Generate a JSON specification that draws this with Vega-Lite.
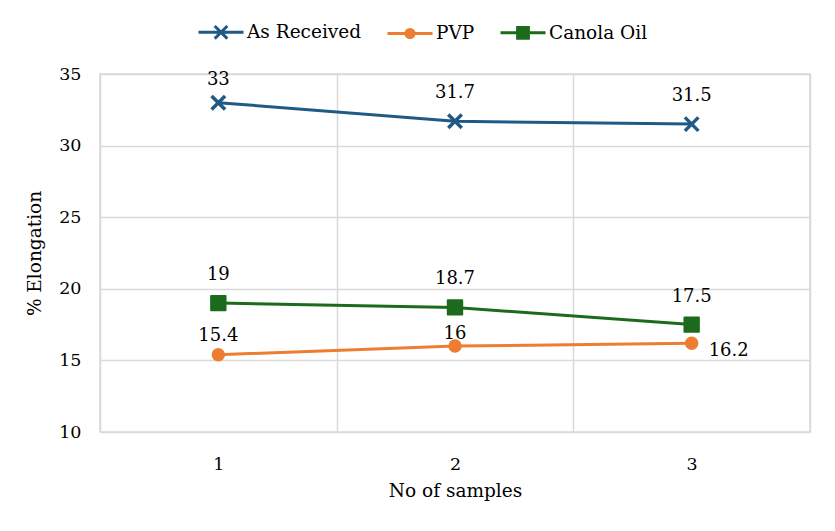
{
  "$schema": "https://vega.github.io/schema/vega-lite/v6.json",
  "width": 710,
  "height": 358,
  "autosize": {"type": "none"},
  "padding": {"left": 100, "top": 74, "right": 25, "bottom": 99},
  "background": "white",
  "config": {
    "view": {"stroke": "#d9d9d9", "strokeWidth": 1.5},
    "font": "DejaVu Serif"
  },
  "data": {
    "values": [
      {"sample": "1", "series": "As Received", "value": 33},
      {"sample": "2", "series": "As Received", "value": 31.7},
      {"sample": "3", "series": "As Received", "value": 31.5},
      {"sample": "1", "series": "PVP", "value": 15.4},
      {"sample": "2", "series": "PVP", "value": 16},
      {"sample": "3", "series": "PVP", "value": 16.2},
      {"sample": "1", "series": "Canola Oil", "value": 19},
      {"sample": "2", "series": "Canola Oil", "value": 18.7},
      {"sample": "3", "series": "Canola Oil", "value": 17.5}
    ]
  },
  "encoding": {
    "x": {
      "field": "sample",
      "type": "ordinal",
      "scale": {"type": "band", "paddingInner": 0, "paddingOuter": 0},
      "axis": {
        "title": "No of samples",
        "titleFont": "DejaVu Serif",
        "titleFontSize": 18.5,
        "titleFontWeight": "normal",
        "titleColor": "black",
        "titlePadding": 9,
        "labelFont": "DejaVu Serif",
        "labelFontSize": 17.5,
        "labelColor": "black",
        "labelAngle": 0,
        "labelPadding": 23,
        "domain": false,
        "ticks": false,
        "tickSize": 0,
        "tickBand": "extent",
        "grid": true,
        "gridColor": "#d9d9d9",
        "gridWidth": 1.5
      }
    },
    "y": {
      "field": "value",
      "type": "quantitative",
      "scale": {"domain": [10, 35], "nice": false, "zero": false},
      "axis": {
        "title": "% Elongation",
        "titleFont": "DejaVu Serif",
        "titleFontSize": 18.5,
        "titleFontWeight": "normal",
        "titleColor": "black",
        "titlePadding": 14,
        "values": [10, 15, 20, 25, 30, 35],
        "labelFont": "DejaVu Serif",
        "labelFontSize": 17.5,
        "labelColor": "black",
        "labelPadding": 19,
        "domain": false,
        "ticks": false,
        "tickSize": 0,
        "grid": true,
        "gridColor": "#d9d9d9",
        "gridWidth": 1.5
      }
    },
    "color": {
      "field": "series",
      "type": "nominal",
      "scale": {
        "domain": ["As Received", "PVP", "Canola Oil"],
        "range": ["#1f5a85", "#ed7d31", "#1c6b1c"]
      },
      "legend": {
        "orient": "none",
        "legendX": 97,
        "legendY": -66,
        "direction": "horizontal",
        "title": null,
        "symbolSize": 2025,
        "symbolStrokeWidth": 3,
        "labelFont": "DejaVu Serif",
        "labelFontSize": 18.5,
        "labelColor": "black",
        "labelOffset": 2,
        "columnPadding": 19,
        "padding": 0,
        "encode": {
          "symbols": {
            "update": {
              "shape": {"signal": "datum.value === 'As Received' ? 'M-1,0H1M-0.28,-0.28L0.28,0.28M0.28,-0.28L-0.28,0.28' : (datum.value === 'PVP' ? 'M-1,0H1M-0.18,0A0.18,0.18,0,1,0,0.18,0A0.18,0.18,0,1,0,-0.18,0Z' : 'M-1,0H1M-0.24,-0.24H0.24V0.24H-0.24Z')"},
              "fill": {"signal": "scale('color', datum.value)"},
              "stroke": {"signal": "scale('color', datum.value)"},
              "strokeWidth": {"value": 3},
              "opacity": {"value": 1}
            }
          }
        }
      }
    }
  },
  "layer": [
    {
      "mark": {"type": "line", "strokeWidth": 3}
    },
    {
      "transform": [{"filter": "datum.series === 'As Received'"}],
      "mark": {"type": "point", "filled": false, "size": 225, "strokeWidth": 3.5, "opacity": 1, "shape": "M-0.9,-0.9L0.9,0.9M0.9,-0.9L-0.9,0.9"}
    },
    {
      "transform": [{"filter": "datum.series === 'PVP'"}],
      "mark": {"type": "point", "filled": true, "size": 180, "opacity": 1, "shape": "circle"}
    },
    {
      "transform": [{"filter": "datum.series === 'Canola Oil'"}],
      "mark": {"type": "point", "filled": true, "size": 256, "opacity": 1, "shape": "M-0.9,-0.9H0.9V0.9H-0.9Z", "strokeWidth": 2, "strokeJoin": "round"},
      "encoding": {"stroke": {"value": "#1c6b1c"}}
    },
    {
      "transform": [{"filter": "(datum.series === 'As Received' && datum.sample !== '1') || datum.series === 'Canola Oil'"}],
      "mark": {"type": "text", "dy": -28, "fontSize": 18, "font": "DejaVu Serif", "baseline": "middle"},
      "encoding": {
        "text": {"field": "value", "type": "nominal"},
        "color": {"value": "black"}
      }
    },
    {
      "transform": [{"filter": "datum.series === 'As Received' && datum.sample === '1'"}],
      "mark": {"type": "text", "dy": -23, "fontSize": 18, "font": "DejaVu Serif", "baseline": "middle"},
      "encoding": {
        "text": {"field": "value", "type": "nominal"},
        "color": {"value": "black"}
      }
    },
    {
      "transform": [{"filter": "datum.series === 'PVP' && datum.sample === '1'"}],
      "mark": {"type": "text", "dy": -19, "fontSize": 18, "font": "DejaVu Serif", "baseline": "middle"},
      "encoding": {
        "text": {"field": "value", "type": "nominal"},
        "color": {"value": "black"}
      }
    },
    {
      "transform": [{"filter": "datum.series === 'PVP' && datum.sample === '2'"}],
      "mark": {"type": "text", "dy": -12, "fontSize": 18, "font": "DejaVu Serif", "baseline": "middle"},
      "encoding": {
        "text": {"field": "value", "type": "nominal"},
        "color": {"value": "black"}
      }
    },
    {
      "transform": [{"filter": "datum.series === 'PVP' && datum.sample === '3'"}],
      "mark": {"type": "text", "dx": 17, "dy": 8, "align": "left", "fontSize": 18, "font": "DejaVu Serif", "baseline": "middle"},
      "encoding": {
        "text": {"field": "value", "type": "nominal"},
        "color": {"value": "black"}
      }
    }
  ]
}
